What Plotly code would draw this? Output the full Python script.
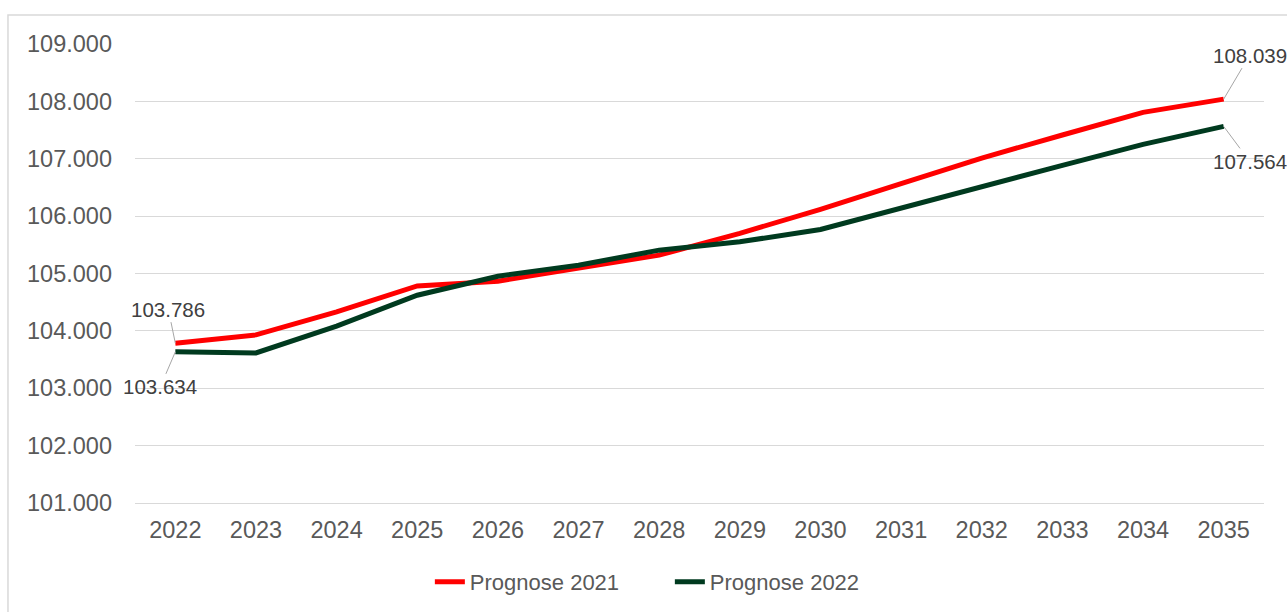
import plotly.graph_objects as go

# Jahre und Prognosewerte
years = ["2022", "2023", "2024", "2025", "2026", "2027", "2028",
         "2029", "2030", "2031", "2032", "2033", "2034", "2035"]
prognose_2021 = [103786, 103930, 104330, 104784, 104866, 105087, 105320,
                 105700, 106117, 106565, 107012, 107414, 107808, 108039]
prognose_2022 = [103634, 103616, 104082, 104621, 104953, 105145, 105407,
                 105552, 105768, 106146, 106524, 106885, 107251, 107564]

COLORS = {
    "red": "#ff0000",
    "green": "#003a1f",
    "grid": "#d9d9d9",
    "text": "#595959",
    "label": "#404040",
    "leader": "#a6a6a6",
}
FONT = "Liberation Sans, Arial, sans-serif"


def fmt(v):
    # deutsches Tausendertrennzeichen
    return f"{v:,}".replace(",", ".")


fig = go.Figure()
fig.add_trace(go.Scatter(
    x=years, y=prognose_2021, mode="lines", name="Prognose 2021",
    line=dict(color=COLORS["red"], width=5),
))
fig.add_trace(go.Scatter(
    x=years, y=prognose_2022, mode="lines", name="Prognose 2022",
    line=dict(color=COLORS["green"], width=5),
))

# Datenbeschriftungen an Anfang und Ende, mit Führungslinie
# (x als Kategorie-Index, sonst liest plotly "2035" als Zahl)
last = len(years) - 1
labels = [
    (0, prognose_2021[0], -7, -34),
    (0, prognose_2022[0], -15, 35),
    (last, prognose_2021[-1], 26, -44),
    (last, prognose_2022[-1], 26, 35),
]
for x, y, ax, ay in labels:
    fig.add_annotation(
        x=x, y=y, text=fmt(y), showarrow=True, arrowhead=0,
        arrowwidth=1, arrowcolor=COLORS["leader"], ax=ax, ay=ay,
        standoff=0, startstandoff=0,
        font=dict(size=20.5, color=COLORS["label"], family=FONT),
    )

# Rahmen des Diagrammbereichs
fig.add_shape(type="rect", xref="paper", yref="paper",
              x0=-0.1125, x1=1.05, y0=-0.4, y1=1.063,
              line=dict(color=COLORS["grid"], width=1.5), layer="below")

fig.update_layout(
    width=1287, height=612,
    margin=dict(l=135, r=23, t=44, b=109),
    plot_bgcolor="white", paper_bgcolor="white",
    separators=",.",
    font=dict(family=FONT, size=23.5, color=COLORS["text"]),
    showlegend=True,
    legend=dict(orientation="h", xref="container", x=0.334, xanchor="left",
                yref="container", y=0.049, yanchor="middle",
                entrywidth=195, entrywidthmode="pixels",
                font=dict(size=22, color=COLORS["text"])),
    xaxis=dict(type="category", range=[-0.5, last + 0.5],
               showgrid=False, showline=True,
               linecolor=COLORS["grid"], linewidth=1,
               ticks="outside", ticklen=6, tickcolor="rgba(0,0,0,0)",
               tickfont=dict(size=23.5), automargin=False),
    yaxis=dict(range=[101000, 109000], dtick=1000, tickformat=",d",
               showgrid=True, gridcolor=COLORS["grid"], gridwidth=1,
               zeroline=False, ticks="", ticklabelstandoff=22,
               tickfont=dict(size=23.5), automargin=False),
)

# Browser-Standardrand des body entfernen
fig.write_html("out.html", config={"displayModeBar": False},
               post_script="document.body.style.margin='0';")
